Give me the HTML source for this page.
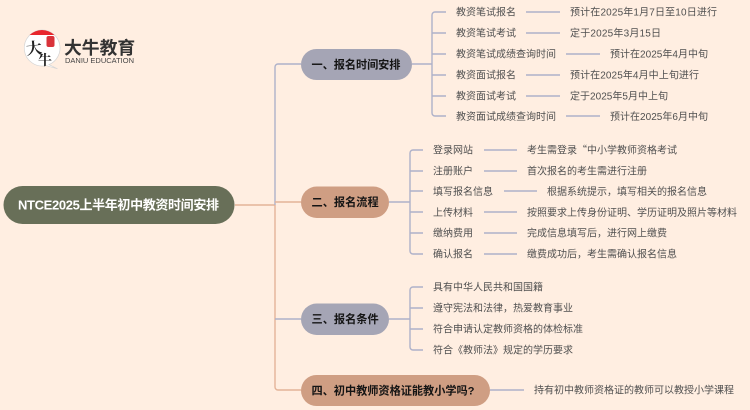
<!DOCTYPE html>
<html lang="zh">
<head>
<meta charset="utf-8">
<title>NTCE2025上半年初中教资时间安排</title>
<style>
html,body{margin:0;padding:0;background:#ffeee1;width:750px;height:410px;overflow:hidden}
svg{display:block}
text{font-family:"Liberation Sans","Noto Sans CJK SC",sans-serif}
.l{font-size:10px;fill:#505050}
.b{font-size:11.2px;font-weight:700;fill:#141414}
.g{fill:none;stroke:#aeb1c9;stroke-width:1.4}
.o{fill:none;stroke:#e3b398;stroke-width:1.4}
</style>
</head>
<body>
<svg width="750" height="410" viewBox="0 0 750 410" xmlns="http://www.w3.org/2000/svg">
<rect width="750" height="410" fill="#ffeee1"/>

<!-- Logo -->
<path d="M42 30a18 18 0 0 1 7 34.600L57.500 68.800 46 65.600A18 18 0 1 1 42 30z" fill="#fff" stroke="#d5d5d5" stroke-width=".7"/>
<path d="M29.600 35A18 18 0 0 1 54.400 35z" fill="#e8262c"/>
<rect x="46.500" y="36" width="8" height="11" rx="2" fill="#d9333a"/>
<text x="26" y="54" font-size="16" font-weight="700" fill="#222" style="font-family:'Noto Serif CJK SC',serif" transform="rotate(-6 34 48)">大</text>
<text x="38" y="65" font-size="14" font-weight="700" fill="#222" style="font-family:'Noto Serif CJK SC',serif">牛</text>
<text x="64" y="54" font-size="17.800" font-weight="700" fill="#333">大牛教育</text>
<text x="65" y="63" font-size="7" fill="#444" textLength="69" lengthAdjust="spacingAndGlyphs">DANIU EDUCATION</text>

<!-- Trunk connectors -->
<path class="o" d="M235 205H275"/>
<path class="g" d="M275 205V67a3 3 0 0 1 3-3H301"/>
<path class="o" d="M275 205V387a3 3 0 0 0 3 3H301"/>
<path class="o" d="M275 202H301"/>
<path class="g" d="M275 319H301"/>

<!-- Branch 1 connectors -->
<path class="g" d="M412 64H432"/>
<path class="g" d="M446 12H435a3 3 0 0 0-3 3V113a3 3 0 0 0 3 3H446"/>
<path class="g" d="M432 33H446M432 54H446M432 75H446M432 96H446"/>
<path class="g" d="M526 12H560M526 33H560M566 54H600M526 75H560M526 96H560M566 116H600"/>

<!-- Branch 2 connectors -->
<path class="g" d="M389 202H410"/>
<path class="g" d="M423 150H413a3 3 0 0 0-3 3V251a3 3 0 0 0 3 3H423"/>
<path class="g" d="M410 171H423M410 191H423M410 212H423M410 233H423"/>
<path class="g" d="M484 150H517M484 171H517M504 191H537M484 212H517M484 233H517M484 254H517"/>

<!-- Branch 3 connectors -->
<path class="g" d="M389 319H410"/>
<path class="g" d="M423 287H413a3 3 0 0 0-3 3V347a3 3 0 0 0 3 3H423"/>
<path class="g" d="M410 308H423M410 329H423"/>

<!-- Branch 4 connector -->
<path class="g" d="M490 390H524"/>

<!-- Root -->
<rect x="3.500" y="186" width="231" height="38" rx="19" fill="#686f58"/>
<text x="18" y="209.500" font-size="13" font-weight="700" fill="#fff" textLength="201">NTCE2025上半年初中教资时间安排</text>

<!-- Branch pills -->
<rect x="301" y="49" width="111" height="31" rx="15.500" fill="#a5a5b5"/>
<text class="b" x="311.500" y="68.300" textLength="89">一、报名时间安排</text>
<rect x="301" y="186.500" width="88" height="31.500" rx="15.700" fill="#cf9e83"/>
<text class="b" x="311.500" y="205.800">二、报名流程</text>
<rect x="301" y="303.500" width="88" height="31.500" rx="15.700" fill="#a5a5b5"/>
<text class="b" x="311.500" y="323">三、报名条件</text>
<rect x="301" y="375" width="189" height="31" rx="15.500" fill="#cf9e83"/>
<text class="b" x="311.500" y="394.300" textLength="163">四、初中教师资格证能教小学吗?</text>

<!-- Branch 1 leaves -->
<text class="l" x="456" y="15.600">教资笔试报名</text>
<text class="l" x="456" y="36.600">教资笔试考试</text>
<text class="l" x="456" y="57.600">教资笔试成绩查询时间</text>
<text class="l" x="456" y="78.600">教资面试报名</text>
<text class="l" x="456" y="99.600">教资面试考试</text>
<text class="l" x="456" y="120">教资面试成绩查询时间</text>
<text class="l" x="570" y="15.600" textLength="147">预计在2025年1月7日至10日进行</text>
<text class="l" x="570" y="36.600" textLength="91">定于2025年3月15日</text>
<text class="l" x="610" y="57.600" textLength="98">预计在2025年4月中旬</text>
<text class="l" x="570" y="78.600" textLength="129">预计在2025年4月中上旬进行</text>
<text class="l" x="570" y="99.600" textLength="98">定于2025年5月中上旬</text>
<text class="l" x="610" y="120" textLength="98">预计在2025年6月中旬</text>

<!-- Branch 2 leaves -->
<text class="l" x="433" y="153.600">登录网站</text>
<text class="l" x="433" y="174.600">注册账户</text>
<text class="l" x="433" y="195">填写报名信息</text>
<text class="l" x="433" y="216">上传材料</text>
<text class="l" x="433" y="236.600">缴纳费用</text>
<text class="l" x="433" y="257.600">确认报名</text>
<text class="l" x="527" y="153.600">考生需登录<tspan style="font-family:'Noto Sans CJK SC',sans-serif">“</tspan>中小学教师资格考试</text>
<text class="l" x="527" y="174.600">首次报名的考生需进行注册</text>
<text class="l" x="547" y="195">根据系统提示，填写相关的报名信息</text>
<text class="l" x="527" y="216">按照要求上传身份证明、学历证明及照片等材料</text>
<text class="l" x="527" y="236.600">完成信息填写后，进行网上缴费</text>
<text class="l" x="527" y="257.600">缴费成功后，考生需确认报名信息</text>

<!-- Branch 3 leaves -->
<text class="l" x="433" y="290.600">具有中华人民共和国国籍</text>
<text class="l" x="433" y="311.600">遵守宪法和法律，热爱教育事业</text>
<text class="l" x="433" y="332.600">符合申请认定教师资格的体检标准</text>
<text class="l" x="433" y="353.600">符合《教师法》规定的学历要求</text>

<!-- Branch 4 leaf -->
<text class="l" x="534" y="393.600">持有初中教师资格证的教师可以教授小学课程</text>
</svg>
</body>
</html>
